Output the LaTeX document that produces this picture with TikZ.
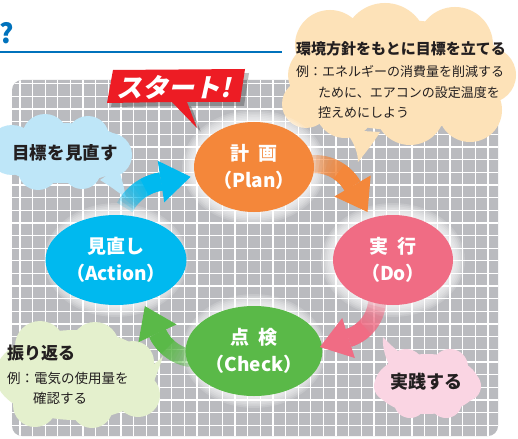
\documentclass[tikz,border=0pt]{standalone}
\usepackage{fontspec}
\setmainfont{Noto Sans CJK JP}
\usetikzlibrary{calc,shapes.geometric}
\definecolor{qblue}{RGB}{0,114,188}
\definecolor{panelgray}{RGB}{186,187,191}
\definecolor{planor}{RGB}{244,135,58}
\definecolor{dopink}{RGB}{240,108,132}
\definecolor{checkgr}{RGB}{90,185,72}
\definecolor{actblue}{RGB}{0,185,239}
\definecolor{startred}{RGB}{237,28,36}
\definecolor{cpeach}{RGB}{253,226,184}
\definecolor{cblue}{RGB}{190,230,248}
\definecolor{cgreen}{RGB}{228,240,205}
\definecolor{cpink}{RGB}{250,213,227}
\definecolor{txt}{RGB}{35,31,32}
\newcommand{\pdcaarrow}[5]{% color, center name, r, a1, a2
  \foreach \k in {0,...,13}{%
    \pgfmathsetmacro\sa{#4+(#5-#4)*\k/14}%
    \draw[#1, line width=18pt, opacity=0.2] ($(#2)+(\sa:#3)$) arc[start angle=\sa, end angle=#5, radius=#3];
  }%
  \pgfmathsetmacro\sb{#4+(#5-#4)*0.62}%
  \draw[#1, line width=18pt] ($(#2)+(\sb:#3)$) arc[start angle=\sb, end angle=#5, radius=#3];
  \fill[#1] ($(#2)+(#5:#3+21)$) -- ($(#2)+(#5:#3-21)$) -- ($(#2)+(#5:#3)+(#5+90:30)$) -- cycle;
}
\tikzset{
  pdca/.style={ellipse, minimum width=120pt, minimum height=90pt, inner sep=0pt, text=white,
    align=center, font=\bfseries\fontsize{19}{27}\selectfont},
  ctext/.style={inner sep=0pt, text=txt},
}
\begin{document}
\begin{tikzpicture}[x=1pt,y=-1pt]
\useasboundingbox (0,0) rectangle (518,438);
\fill[white] (0,0) rectangle (518,438);

% heading remnant
\node[text=qblue, inner sep=0pt, font=\bfseries\fontsize{27}{27}\selectfont] (q) at (7,33) {?};
\coordinate (l0) at (0,52);
\coordinate (l1) at (282,52);
\draw[qblue, line width=2pt] (l0) -- (l1);

% grid panel
\fill[panelgray, rounded corners=10pt] (12,80) rectangle (498,436);
\begin{scope}
  \clip[rounded corners=10pt] (12,80) rectangle (498,436);
  \foreach \i in {0,...,39} \draw[white, line width=1.3pt] ({7.2+12.65*\i},80) -- ({7.2+12.65*\i},436);
  \foreach \j in {6,...,34} \draw[white, line width=1.3pt] (12,{7.8+12.65*\j}) -- (498,{7.8+12.65*\j});
\end{scope}

% top-right peach cloud
\begin{scope}[fill=cpeach]
  \fill (400,75) ellipse[x radius=112, y radius=55];
  \fill (330,45) circle[radius=35];
  \fill (385,45) circle[radius=42];
  \fill (455,45) circle[radius=38];
  \fill (488,75) circle[radius=28];
  \fill (470,110) circle[radius=32];
  \fill (410,110) circle[radius=35];
  \fill (345,108) circle[radius=30];
  \fill (306,104) circle[radius=24];
  \fill (345,130) .. controls (352,140) and (358,150) .. (358,162) .. controls (366,152) and (374,142) .. (380,132) -- cycle;
\end{scope}

% left blue cloud
\begin{scope}[fill=cblue]
  \fill (62,153) ellipse[x radius=68, y radius=30];
  \fill (45,137) circle[radius=23];
  \fill (88,137) circle[radius=21];
  \fill (110,155) circle[radius=22];
  \fill (82,170) circle[radius=19];
  \fill (38,170) circle[radius=20];
  \fill (12,150) circle[radius=25];
  \fill (100,180) .. controls (110,186) and (118,192) .. (126,198) .. controls (124,188) and (122,178) .. (118,168) -- cycle;
\end{scope}

% bottom-left green cloud
\begin{scope}[fill=cgreen]
  \fill (75,375) ellipse[x radius=80, y radius=45];
  \fill (40,346) circle[radius=25];
  \fill (95,346) circle[radius=24];
  \fill (133,362) circle[radius=21];
  \fill (138,395) circle[radius=22];
  \fill (92,407) circle[radius=21];
  \fill (35,405) circle[radius=22];
  \fill (138,372) .. controls (148,368) and (156,364) .. (163,356) .. controls (160,366) and (156,376) .. (152,386) -- cycle;
\end{scope}

% bottom-right pink cloud
\begin{scope}[fill=cpink]
  \fill (427,384) ellipse[x radius=52, y radius=30];
  \fill (406,367) circle[radius=18];
  \fill (450,367) circle[radius=18];
  \fill (466,386) circle[radius=15];
  \fill (446,402) circle[radius=16];
  \fill (410,402) circle[radius=16];
  \fill (389,386) circle[radius=15];
  \fill (392,370) .. controls (386,360) and (382,348) .. (383,337) .. controls (392,347) and (402,355) .. (412,360) -- cycle;
\end{scope}

% start banner
\fill[black, opacity=0.25] (117,74) -- (249,73) -- (244,106) -- (191,106) -- (201,132) -- (176,106) -- (111,107) -- cycle;
\fill[startred] (113,70) -- (245,69) -- (240,102) -- (187,102) -- (197,128) -- (172,102) -- (107,103) -- cycle;
\begin{scope}[shift={(176,87)}]
  \node[xslant=0.22, transform shape, inner sep=0pt, text=white, font=\bfseries\fontsize{26}{26}\selectfont] (start) at (0,0) {スタート!};
\end{scope}

% glows
\foreach \c in {(254,167),(393,260),(254,351),(116,260)}{
  \foreach \g in {1,...,7}{
    \fill[white, opacity=0.17] \c ellipse[x radius={60+1.7*\g}, y radius={45+1.7*\g}];
  }
}

% PDCA ellipses
\node[pdca, fill=planor] (plan) at (254,167) {計\hspace{0.45em}画\\（Plan）};
\node[pdca, fill=dopink] (do) at (393,260) {実\hspace{0.45em}行\\（Do）};
\node[pdca, fill=checkgr] (check) at (254,351) {点\hspace{0.45em}検\\（Check）};
\node[pdca, fill=actblue] (act) at (116,260) {見直し\\（Action）};

% arrows
\coordinate (cA) at (168.8,230.9);
\coordinate (cP) at (314.4,208);
\coordinate (cD) at (336.2,298.9);
\coordinate (cC) at (197.4,314.7);
\pdcaarrow{actblue}{cA}{50}{208}{261}
\pdcaarrow{planor}{cP}{44}{262}{330}
\pdcaarrow{dopink}{cD}{41}{0}{72.5}
\pdcaarrow{checkgr}{cC}{44}{95}{155}

% callout texts
\node[ctext, anchor=west, font=\bfseries\fontsize{15}{15}\selectfont] (t1) at (296,49) {環境方針をもとに目標を立てる};
\node[ctext, anchor=west, font=\fontsize{13}{13}\selectfont] (t2) at (296,72) {例：エネルギーの消費量を削減する};
\node[ctext, anchor=west, font=\fontsize{13}{13}\selectfont] (t3) at (318,93) {ために、エアコンの設定温度を};
\node[ctext, anchor=west, font=\fontsize{13}{13}\selectfont] (t4) at (318,113) {控えめにしよう};

\node[ctext, font=\bfseries\fontsize{17.5}{17.5}\selectfont] (b1) at (65,153) {目標を見直す};

\node[ctext, anchor=west, font=\bfseries\fontsize{17}{17}\selectfont] (g1) at (7,353) {振り返る};
\node[ctext, anchor=west, font=\fontsize{13.5}{13.5}\selectfont] (g2) at (7,378) {例：電気の使用量を};
\node[ctext, anchor=west, font=\fontsize{13.5}{13.5}\selectfont] (g3) at (33,398) {確認する};

\node[ctext, font=\bfseries\fontsize{18}{18}\selectfont] (p1) at (426,382) {実践する};
\end{tikzpicture}
\end{document}
